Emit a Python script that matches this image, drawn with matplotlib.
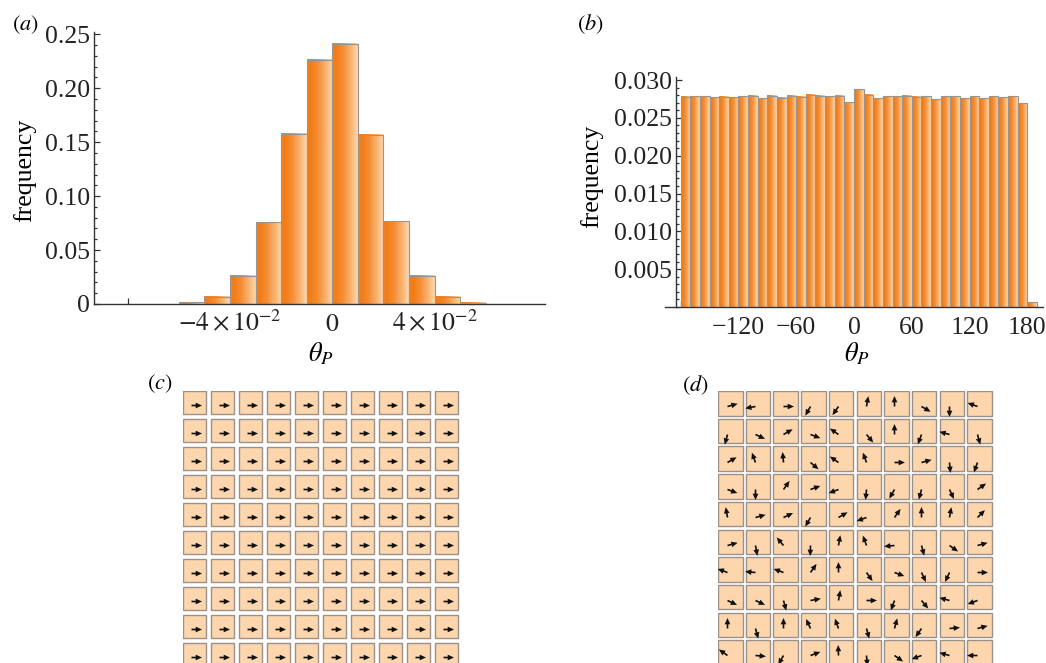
import matplotlib
matplotlib.use('Agg')  # headless
import matplotlib.pyplot as plt
import numpy as np
from matplotlib.colors import LinearSegmentedColormap
from matplotlib.patches import Rectangle
from matplotlib.markers import MarkerStyle
from matplotlib.path import Path
from matplotlib.transforms import Affine2D
from matplotlib.ticker import MultipleLocator

plt.rcParams['font.family'] = ['Liberation Serif', 'DejaVu Serif']
plt.rcParams['mathtext.fontset'] = 'stix'

W, H = 1046, 663

# ── data ────────────────────────────────────────────────────────────
# (a) theta_P histogram, narrow spread (bin width 0.01)
a_edges = [-0.06, -0.05, -0.04, -0.03, -0.02, -0.01, 0.0,
           0.01, 0.02, 0.03, 0.04, 0.05, 0.06]
a_freq = [0.0015, 0.0065, 0.026, 0.0757, 0.1576, 0.2265,
          0.2413, 0.157, 0.0766, 0.026, 0.0065, 0.0012]

# (b) theta_P histogram, uniform spread (bin width 10 deg)
b_edges = [-180, -170, -160, -150, -140, -130, -120, -110, -100, -90,
           -80, -70, -60, -50, -40, -30, -20, -10, 0, 10, 20, 30, 40,
           50, 60, 70, 80, 90, 100, 110, 120, 130, 140, 150, 160, 170,
           180, 190]
b_freq = [0.02779, 0.02784, 0.02784, 0.02775, 0.02779, 0.02775, 0.02784,
          0.02793, 0.02762, 0.02793, 0.02766, 0.02793, 0.02779, 0.02806,
          0.02793, 0.02784, 0.02793, 0.02709, 0.02881, 0.02806, 0.02762,
          0.02784, 0.02784, 0.02793, 0.02779, 0.02784, 0.02749, 0.02784,
          0.02784, 0.02762, 0.02784, 0.02762, 0.02784, 0.02775, 0.02784,
          0.02696, 0.00066]

a_xticks = [-0.08, -0.04, 0.0, 0.04]
a_xlabels = ['', r'$-4\times10^{-2}$', r'$0$', r'$4\times10^{-2}$']
a_yticks = [0, 0.05, 0.10, 0.15, 0.20, 0.25]
a_ylabels = ['0', '0.05', '0.10', '0.15', '0.20', '0.25']
b_xticks = [-180, -120, -60, 0, 60, 120, 180]
b_xlabels = ['', '\u2212120', '\u221260', '0', '60', '120', '180']
b_yticks = [0.005, 0.010, 0.015, 0.020, 0.025, 0.030]
b_ylabels = ['0.005', '0.010', '0.015', '0.020', '0.025', '0.030']

# (c) aligned spins, (d) disordered spins: arrow angle per cell (deg)
c_angles = [
    [0, 0, 0, 0, 0, 0, 0, 0, 0, 0],
    [0, 0, 0, 0, 0, 0, 0, 0, 0, 0],
    [0, 0, 0, 0, 0, 0, 0, 0, 0, 0],
    [0, 0, 0, 0, 0, 0, 0, 0, 0, 0],
    [0, 0, 0, 0, 0, 0, 0, 0, 0, 0],
    [0, 0, 0, 0, 0, 0, 0, 0, 0, 0],
    [0, 0, 0, 0, 0, 0, 0, 0, 0, 0],
    [0, 0, 0, 0, 0, 0, 0, 0, 0, 0],
    [0, 0, 0, 0, 0, 0, 0, 0, 0, 0],
    [0, 0, 0, 0, 0, 0, 0, 0, 0, 0],
]
d_angles = [
    [15, 190, 0, 240, 235, 80, 90, 330, 270, 160],
    [255, 335, 30, 340, 145, 310, 90, 250, 165, 285],
    [30, 110, 95, 320, 145, 110, 0, 15, 275, 250],
    [340, 270, 55, 20, 200, 265, 240, 255, 295, 35],
    [100, 15, 25, 240, 30, 200, 55, 90, 80, 45],
    [15, 280, 130, 268, 80, 110, 185, 285, 325, 15],
    [160, 175, 160, 55, 90, 305, 340, 295, 245, 0],
    [335, 335, 285, 10, 80, 0, 250, 310, 165, 200],
    [90, 285, 90, 115, 110, 285, 75, 235, 5, 15],
    [145, 355, 240, 20, 92, 275, 325, 200, 165, 180],
]

# ── style ───────────────────────────────────────────────────────────
BAR_CMAP = LinearSegmentedColormap.from_list(
    'bar', [(0.0, '#F68A30'), (0.1, '#F37A12'), (0.42, '#F58D34'),
            (0.75, '#F9B574'), (1.0, '#FDD8B0')])
BAR_EDGE = '#9c948c'
AXIS_COL = '#333333'
CELL_FILL = '#FDD6AE'
CELL_EDGE = '#9a918a'
FS = 18.5

# arrow: tail at origin, tip at (1, 0)
ARROW = Path([(0, 0.08), (0.4, 0.08), (0.4, 0.27), (1.0, 0.0),
              (0.4, -0.27), (0.4, -0.08), (0, -0.08), (0, 0.08)], closed=True)
ARROW_MS = 2 * 10.5 * 72 / 100  # 10.5 px long


def px_axes(fig, left, top, right, bottom):
    return fig.add_axes([left / W, 1 - bottom / H, (right - left) / W, (bottom - top) / H])


def gradient_bars(ax, edges, heights):
    grad = np.linspace(0, 1, 64).reshape(1, -1)
    for x0, x1, h in zip(edges[:-1], edges[1:], heights):
        ax.imshow(grad, cmap=BAR_CMAP, extent=(x0, x1, 0, h), aspect='auto',
                  interpolation='bilinear', zorder=2)
    ax.bar(edges[:-1], heights, width=np.diff(edges), align='edge', fill=False,
           edgecolor=BAR_EDGE, linewidth=0.8, zorder=3)


def style_hist(ax):
    for s in ('top', 'right'):
        ax.spines[s].set_visible(False)
    for s in ('left', 'bottom'):
        ax.spines[s].set_color(AXIS_COL)
        ax.spines[s].set_linewidth(1.0)
    ax.tick_params(which='both', direction='in', colors=AXIS_COL, labelcolor='#222222',
                   labelsize=FS, width=0.9)
    ax.tick_params(which='major', length=4)
    ax.tick_params(which='minor', length=2)
    ax.tick_params(axis='y', pad=3)
    ax.set_facecolor('none')


def cell_panel(ax, angles, cell, pivot, n_rows_vis):
    for j, row in enumerate(angles):
        for i, ang in enumerate(row):
            ax.add_patch(Rectangle((i, j), cell, cell, facecolor=CELL_FILL,
                                   edgecolor=CELL_EDGE, linewidth=1.0))
            m = MarkerStyle(ARROW, transform=Affine2D().rotate_deg(ang))
            ax.plot(i + pivot[0] * cell, j + pivot[1] * cell, ls='none', marker=m,
                    ms=ARROW_MS, markerfacecolor='#111111', markeredgewidth=0)
    ax.set_xlim(0, len(angles[0]))
    ax.set_ylim(n_rows_vis, 0)
    ax.axis('off')


fig = plt.figure(figsize=(W / 100, H / 100), dpi=100, facecolor='white')

# ── (a) ─────────────────────────────────────────────────────────────
ax_a = px_axes(fig, 94, 31.7, 545, 304)
gradient_bars(ax_a, a_edges, a_freq)
ax_a.set_xlim(-0.0932, 0.0832)
ax_a.set_ylim(0, 0.2524)
style_hist(ax_a)
ax_a.set_xticks(a_xticks)
ax_a.set_xticklabels(a_xlabels)
ax_a.set_yticks(a_yticks)
ax_a.set_yticklabels(a_ylabels)
ax_a.yaxis.set_minor_locator(MultipleLocator(0.01))
for t in ax_a.get_xticklabels():
    t.set_verticalalignment('baseline')
ax_a.tick_params(axis='x', pad=19.4)

# ── (b) ─────────────────────────────────────────────────────────────
ax_b = px_axes(fig, 665, 77.3, 1043, 307)
gradient_bars(ax_b, b_edges, b_freq)
ax_b.set_xlim(-196.3, 196.3)
ax_b.set_ylim(0, 0.03036)
style_hist(ax_b)
ax_b.spines['left'].set_position(('data', -184.8))
ax_b.set_xticks(b_xticks)
ax_b.set_xticklabels(b_xlabels)
ax_b.set_yticks(b_yticks)
ax_b.set_yticklabels(b_ylabels)
ax_b.yaxis.set_minor_locator(MultipleLocator(0.001))
ax_b.tick_params(axis='x', pad=7)

# axis titles
fig.text(25 / W, 1 - 170 / H, 'frequency', rotation=90, ha='center', va='center', fontsize=FS)
fig.text(592 / W, 1 - 176 / H, 'frequency', rotation=90, ha='center', va='center', fontsize=FS)
fig.text(321 / W, 1 - 354 / H, r'$\theta_P$', ha='center', va='center', fontsize=19)
fig.text(857 / W, 1 - 354 / H, r'$\theta_P$', ha='center', va='center', fontsize=19)

# ── (c) / (d) spin grids ────────────────────────────────────────────
ax_c = px_axes(fig, 183, 391, 463, 663)
cell_panel(ax_c, c_angles, 22.5 / 28, (0.35, 0.64), 272 / 28)

ax_d = px_axes(fig, 718, 391, 995, 663)
cell_panel(ax_d, d_angles, 24.5 / 27.7, (0.38, 0.62), 272 / 27.7)

# panel letters
fig.text(12 / W, 1 - 25 / H, r'$(a)$', fontsize=16, ha='left', va='center')
fig.text(577 / W, 1 - 24 / H, r'$(b)$', fontsize=16, ha='left', va='center')
fig.text(147 / W, 1 - 384 / H, r'$(c)$', fontsize=16, ha='left', va='center')
fig.text(682 / W, 1 - 385 / H, r'$(d)$', fontsize=16, ha='left', va='center')

fig.savefig('out.png', dpi=100, facecolor='white')
